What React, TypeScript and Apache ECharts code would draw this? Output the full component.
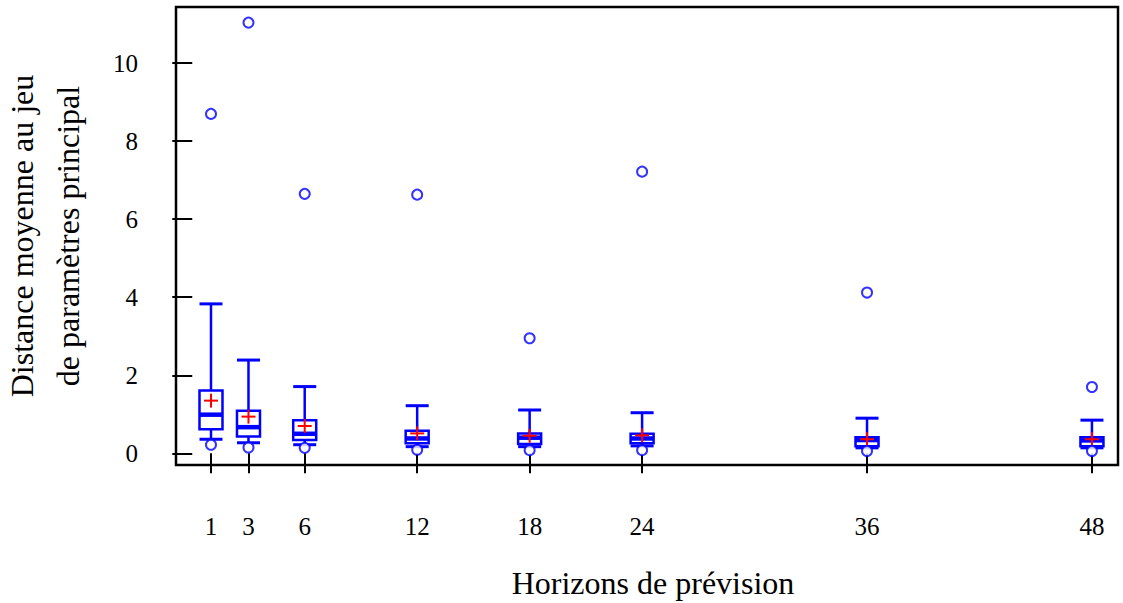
import React, { useEffect, useRef } from "react";
import * as echarts from "echarts";

const horizons = [1, 3, 6, 12, 18, 24, 36, 48];
const whiskerHigh = [3.83, 2.39, 1.71, 1.22, 1.11, 1.04, 0.9, 0.85];
const q3 = [1.61, 1.09, 0.85, 0.58, 0.51, 0.5, 0.41, 0.41];
const medians = [0.99, 0.67, 0.5, 0.38, 0.4, 0.38, 0.34, 0.33];
const q1 = [0.615, 0.43, 0.34, 0.26, 0.24, 0.26, 0.18, 0.18];
const whiskerLow = [0.36, 0.27, 0.22, 0.17, 0.17, 0.19, 0.14, 0.14];
const means = [1.35, 0.94, 0.7, 0.51, 0.45, 0.46, 0.36, 0.36];
const upperOutliers = [8.7, 11.04, 6.65, 6.63, 2.95, 7.22, 4.12, 1.7];
const lowerOutliers = [0.22, 0.15, 0.14, 0.09, 0.08, 0.08, 0.06, 0.06];
const yTicks = [0, 2, 4, 6, 8, 10];

const xTitle = "Horizons de prévision";
const yTitle = "Distance moyenne au jeu\nde paramètres principal";

const FONT = "'Liberation Serif', 'DejaVu Serif', serif";
const BLUE = "#0000ff";
const RED = "#ff0000";

export default function App() {
  const ref = useRef<HTMLDivElement>(null);
  useEffect(() => {
    if (!ref.current) return;
    const chart = echarts.init(ref.current, undefined, { renderer: "svg" });
    const boxData = horizons.map((h, i) => [
      h,
      whiskerLow[i],
      q1[i],
      medians[i],
      q3[i],
      whiskerHigh[i],
      means[i],
    ]);
    const outlierData: number[][] = [];
    horizons.forEach((h, i) => {
      outlierData.push([h, upperOutliers[i]]);
      outlierData.push([h, lowerOutliers[i]]);
    });
    const option: any = {
      animation: false,
      backgroundColor: "#ffffff",
      grid: {
        left: 176,
        right: 5,
        top: 7,
        bottom: 138,
        show: true,
        borderColor: "#000",
        borderWidth: 2.5,
        backgroundColor: "transparent",
      },
      xAxis: {
        type: "value",
        min: -0.867,
        max: 49.39,
        axisLine: { show: false },
        splitLine: { show: false },
        axisTick: {
          show: true,
          length: 20,
          customValues: horizons,
          lineStyle: { color: "#000", width: 2 },
        },
        axisLabel: {
          customValues: horizons,
          margin: 49,
          fontFamily: FONT,
          fontSize: 25,
          color: "#000",
        },
      },
      yAxis: {
        type: "value",
        min: -0.3,
        max: 11.44,
        axisLine: { show: false },
        splitLine: { show: false },
        axisTick: {
          show: true,
          length: 20,
          customValues: yTicks,
          lineStyle: { color: "#000", width: 2 },
        },
        axisLabel: {
          customValues: yTicks,
          margin: 38,
          fontFamily: FONT,
          fontSize: 25,
          color: "#000",
        },
      },
      graphic: [
        {
          type: "text",
          x: 653,
          y: 583,
          style: {
            text: xTitle,
            fontFamily: FONT,
            fontSize: 32,
            fill: "#000",
            align: "center",
            verticalAlign: "middle",
          },
        },
        {
          type: "text",
          x: 45,
          y: 236,
          rotation: Math.PI / 2,
          style: {
            text: yTitle,
            fontFamily: FONT,
            fontSize: 32,
            lineHeight: 46,
            fill: "#000",
            align: "center",
            verticalAlign: "middle",
          },
        },
      ],
      series: [
        {
          type: "custom",
          data: boxData,
          encode: { x: 0, y: [1, 2, 3, 4, 5, 6] },
          renderItem: (params: any, api: any) => {
            const x = api.value(0);
            const lo = api.value(1);
            const b1 = api.value(2);
            const med = api.value(3);
            const b3 = api.value(4);
            const hi = api.value(5);
            const mean = api.value(6);
            const px = api.coord([x, med])[0];
            const y = (v: number) => api.coord([x, v])[1];
            const hw = 11.5;
            const ls = { stroke: BLUE, lineWidth: 2.5, fill: "none" };
            const yHi = y(hi);
            const yLo = y(lo);
            const yQ1 = y(b1);
            const yQ3 = y(b3);
            const yMed = y(med);
            const yMean = y(mean);
            const cs = 7;
            return {
              type: "group",
              children: [
                { type: "line", shape: { x1: px, y1: yQ3, x2: px, y2: yHi }, style: ls },
                { type: "line", shape: { x1: px - hw, y1: yHi, x2: px + hw, y2: yHi }, style: { ...ls, lineWidth: 3 } },
                { type: "line", shape: { x1: px, y1: yQ1, x2: px, y2: yLo }, style: ls },
                { type: "line", shape: { x1: px - hw, y1: yLo, x2: px + hw, y2: yLo }, style: { ...ls, lineWidth: 3 } },
                {
                  type: "rect",
                  shape: { x: px - hw, y: yQ3, width: 2 * hw, height: yQ1 - yQ3 },
                  style: { stroke: BLUE, lineWidth: 2.5, fill: "#fff" },
                },
                { type: "line", shape: { x1: px - hw, y1: yMed, x2: px + hw, y2: yMed }, style: { ...ls, lineWidth: 4.5 } },
                { type: "line", shape: { x1: px - cs, y1: yMean, x2: px + cs, y2: yMean }, style: { stroke: RED, lineWidth: 2 } },
                { type: "line", shape: { x1: px, y1: yMean - cs, x2: px, y2: yMean + cs }, style: { stroke: RED, lineWidth: 2 } },
              ],
            };
          },
          z: 2,
        },
        {
          type: "scatter",
          data: outlierData,
          symbol: "emptyCircle",
          symbolSize: 10,
          itemStyle: { color: BLUE, borderColor: BLUE, borderWidth: 2 },
          z: 3,
        },
      ],
    };
    chart.setOption(option);
    return () => chart.dispose();
  }, []);
  return (
    <div
      ref={ref}
      style={{ position: "fixed", left: 0, top: 0, width: 1123, height: 603, background: "#fff" }}
    />
  );
}
